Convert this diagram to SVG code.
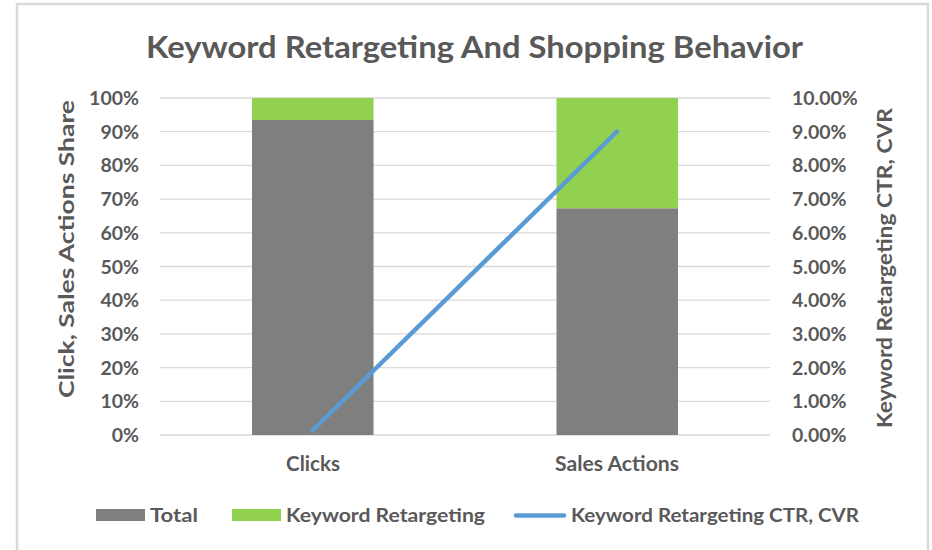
<svg xmlns="http://www.w3.org/2000/svg" width="932" height="550" viewBox="0 0 932 550">
  <style>
    text { font-family: Lato, "Open Sans", "Liberation Sans", sans-serif; font-weight: bold; fill: #595959; }
    .title { font-size: 30px; }
    .tick { font-size: 19.5px; }
    .cat { font-size: 20px; }
    .axis-title { font-size: 20px; }
    .legend { font-size: 19px; }
    .grid line { stroke: #D9D9D9; stroke-width: 1.3; }
    .total { fill: #7F7F7F; }
    .kr { fill: #92D050; }
    .ctr { stroke: #5B9BD5; stroke-width: 4.5; stroke-linecap: round; fill: none; }
  </style>

  <!-- chart area -->
  <rect x="0" y="0" width="932" height="550" fill="#FFFFFF"/>
  <path d="M17 552 V4 H928 V552" fill="none" stroke="#D9D9D9" stroke-width="2.5"/>

  <g id="title">
    <text class="title" x="474.5" y="58" text-anchor="middle" textLength="657" lengthAdjust="spacingAndGlyphs">Keyword Retargeting And Shopping Behavior</text>
  </g>

  <!-- horizontal gridlines, 0% to 100% -->
  <g class="grid">
    <line x1="160" y1="98" x2="770" y2="98"/>
    <line x1="160" y1="131.7" x2="770" y2="131.7"/>
    <line x1="160" y1="165.4" x2="770" y2="165.4"/>
    <line x1="160" y1="199.1" x2="770" y2="199.1"/>
    <line x1="160" y1="232.8" x2="770" y2="232.8"/>
    <line x1="160" y1="266.5" x2="770" y2="266.5"/>
    <line x1="160" y1="300.2" x2="770" y2="300.2"/>
    <line x1="160" y1="333.9" x2="770" y2="333.9"/>
    <line x1="160" y1="367.6" x2="770" y2="367.6"/>
    <line x1="160" y1="401.3" x2="770" y2="401.3"/>
    <line x1="160" y1="435" x2="770" y2="435"/>
  </g>

  <!-- primary axis labels -->
  <g id="axis-left" text-anchor="end">
    <text class="tick" x="139" y="105">100%</text>
    <text class="tick" x="139" y="138.7">90%</text>
    <text class="tick" x="139" y="172.4">80%</text>
    <text class="tick" x="139" y="206.1">70%</text>
    <text class="tick" x="139" y="239.8">60%</text>
    <text class="tick" x="139" y="273.5">50%</text>
    <text class="tick" x="139" y="307.2">40%</text>
    <text class="tick" x="139" y="340.9">30%</text>
    <text class="tick" x="139" y="374.6">20%</text>
    <text class="tick" x="139" y="408.3">10%</text>
    <text class="tick" x="139" y="442">0%</text>
  </g>

  <!-- secondary axis labels -->
  <g id="axis-right" text-anchor="start">
    <text class="tick" x="792" y="105">10.00%</text>
    <text class="tick" x="792" y="138.7">9.00%</text>
    <text class="tick" x="792" y="172.4">8.00%</text>
    <text class="tick" x="792" y="206.1">7.00%</text>
    <text class="tick" x="792" y="239.8">6.00%</text>
    <text class="tick" x="792" y="273.5">5.00%</text>
    <text class="tick" x="792" y="307.2">4.00%</text>
    <text class="tick" x="792" y="340.9">3.00%</text>
    <text class="tick" x="792" y="374.6">2.00%</text>
    <text class="tick" x="792" y="408.3">1.00%</text>
    <text class="tick" x="792" y="442">0.00%</text>
  </g>

  <g id="axis-title-left">
    <text class="axis-title" transform="translate(74 249) rotate(-90)" text-anchor="middle" textLength="298" lengthAdjust="spacingAndGlyphs">Click, Sales Actions Share</text>
  </g>
  <g id="axis-title-right">
    <text class="axis-title" transform="translate(892 268) rotate(-90)" text-anchor="middle" textLength="320" lengthAdjust="spacingAndGlyphs">Keyword Retargeting CTR, CVR</text>
  </g>

  <!-- stacked columns -->
  <g id="bar-clicks">
    <rect class="total" x="252" y="120" width="121.5" height="315"/>
    <rect class="kr" x="252" y="98" width="121.5" height="22"/>
  </g>
  <g id="bar-sales-actions">
    <rect class="total" x="556.5" y="208.3" width="121.5" height="226.7"/>
    <rect class="kr" x="556.5" y="98" width="121.5" height="110.3"/>
  </g>

  <!-- CTR / CVR line on secondary axis -->
  <g id="connectors">
    <line class="ctr" x1="312.5" y1="430.5" x2="617" y2="131.5"/>
  </g>

  <!-- category labels -->
  <g id="category-labels" text-anchor="middle">
    <text class="cat" x="313" y="471" textLength="54" lengthAdjust="spacingAndGlyphs">Clicks</text>
    <text class="cat" x="617" y="471" textLength="124" lengthAdjust="spacingAndGlyphs">Sales Actions</text>
  </g>

  <!-- legend -->
  <g id="legend">
    <rect class="total" x="96" y="509" width="49" height="12"/>
    <text class="legend" x="150" y="522" textLength="48" lengthAdjust="spacingAndGlyphs">Total</text>
    <rect class="kr" x="232" y="509" width="49" height="12"/>
    <text class="legend" x="286" y="522" textLength="199" lengthAdjust="spacingAndGlyphs">Keyword Retargeting</text>
    <line class="ctr" x1="516" y1="515.5" x2="564" y2="515.5"/>
    <text class="legend" x="571" y="522" textLength="288" lengthAdjust="spacingAndGlyphs">Keyword Retargeting CTR, CVR</text>
  </g>
</svg>
